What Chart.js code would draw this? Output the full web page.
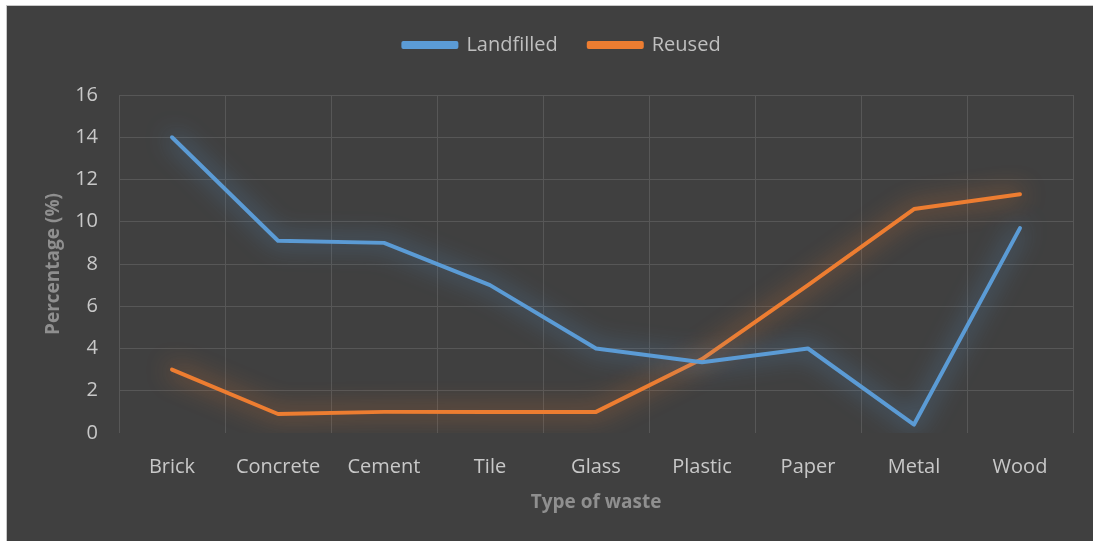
<!DOCTYPE html>
<html>
<head>
<meta charset="utf-8">
<script src="https://cdn.jsdelivr.net/npm/chart.js@4.4.0/dist/chart.umd.min.js"></script>
<style>
  html, body { margin: 0; padding: 0; background: #ffffff; }
  #wrap {
    position: absolute; left: 6px; top: 5px; width: 1086px; height: 535px;
    background: #404040; border-left: 1px solid #c8c8c8; border-top: 1px solid #c8c8c8;
  }
</style>
</head>
<body>
<div id="wrap"><canvas id="chart"></canvas></div>
<script>
// waste categories and shares (%)
const categories = ['Brick', 'Concrete', 'Cement', 'Tile', 'Glass', 'Plastic', 'Paper', 'Metal', 'Wood'];
const landfilled = [14, 9.1, 9.0, 7.0, 4.0, 3.35, 4.0, 0.4, 9.7];
const reused = [3.0, 0.9, 1.0, 1.0, 1.0, 3.5, 7.0, 10.6, 11.3];
const yTicks = [0, 2, 4, 6, 8, 10, 12, 14, 16];

const BLUE = '#5B9BD5';
const ORANGE = '#ED7D31';
const FONT = '"Open Sans", Lato, sans-serif';

// soft glow around each line, like the office "glow" effect
const glowPlugin = {
    id: 'glow',
    beforeDatasetDraw(chart, args) {
        const ctx = chart.ctx;
        ctx.save();
        ctx.shadowColor = args.meta.dataset.options.borderColor === BLUE
            ? 'rgba(91,155,213,0.95)' : 'rgba(237,125,49,0.95)';
        ctx.shadowBlur = 24;
    },
    afterDatasetDraw(chart) {
        chart.ctx.restore();
    }
};

// extra room under the legend, and nudge it a bit
const legendTweak = {
    id: 'legendTweak',
    beforeInit(chart) {
        const legend = chart.legend;
        const fit = legend.fit;
        legend.fit = function () {
            fit.call(this);
            this.height += 24;
        };
        const draw = legend.draw;
        legend.draw = function () {
            const ctx = this.ctx;
            ctx.save();
            ctx.translate(13, -6);
            draw.call(this);
            ctx.restore();
        };
    }
};

new Chart(document.getElementById('chart'), {
    type: 'line',
    data: {
        labels: categories,
        datasets: [
            { label: 'Landfilled', data: landfilled, borderColor: BLUE, backgroundColor: BLUE },
            { label: 'Reused', data: reused, borderColor: ORANGE, backgroundColor: ORANGE }
        ]
    },
    options: {
        responsive: true,
        maintainAspectRatio: false,
        animation: false,
        layout: { padding: { left: 18, right: 20, top: 4, bottom: 10 } },
        elements: {
            line: { borderWidth: 4, tension: 0, borderJoinStyle: 'round', borderCapStyle: 'round' },
            point: { radius: 0, hoverRadius: 0 }
        },
        plugins: {
            tooltip: { enabled: false },
            legend: {
                position: 'top',
                labels: {
                    color: '#bfbfbf',
                    font: { family: FONT, size: 20 },
                    boxWidth: 53,
                    boxHeight: 4,
                    padding: 31
                }
            }
        },
        scales: {
            x: {
                offset: true,
                afterFit(axis) { axis.height = 98; },
                grid: { offset: true, color: '#575757', lineWidth: 1, drawTicks: false },
                border: { display: false },
                ticks: { color: '#c8c8c8', font: { family: FONT, size: 20 }, padding: 22 },
                title: { display: true, text: 'Type of waste', color: '#8f8f8f',
                         font: { family: FONT, size: 19, weight: 'bold' }, padding: { top: 0, bottom: 17 } }
            },
            y: {
                min: 0, max: 16,
                afterFit(axis) { axis.width = 94; },
                afterBuildTicks(axis) { axis.ticks = yTicks.map(v => ({ value: v })); },
                grid: {
                    color: c => c.tick && c.tick.value === 0 ? 'rgba(0,0,0,0)' : '#575757',
                    drawTicks: false
                },
                border: { display: false },
                ticks: { color: '#c8c8c8', font: { family: FONT, size: 20 }, padding: 21 },
                title: { display: true, text: 'Percentage (%)', color: '#8f8f8f',
                         font: { family: FONT, size: 19, weight: 'bold' }, padding: { top: 17, bottom: 0 } }
            }
        }
    },
    plugins: [glowPlugin, legendTweak]
});
</script>
</body>
</html>
